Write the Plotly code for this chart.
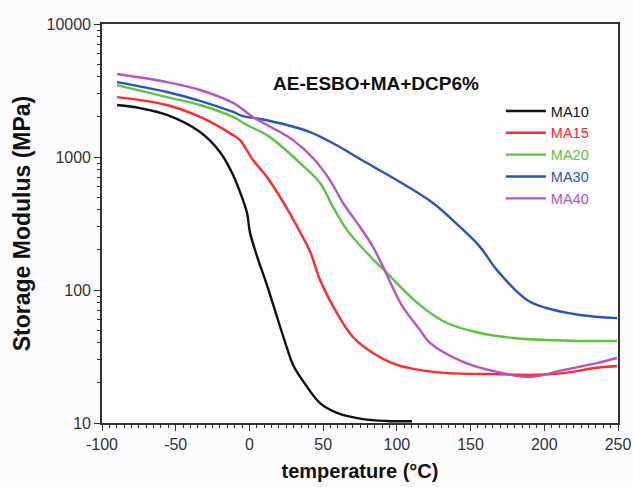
import plotly.graph_objects as go

# ---- data ----
ma10_t = [-89.8, -74.2, -55.9, -33.5, -20.0, -11.1, -4.4, -1.6, 0.4, 5.1, 11.9, 18.7, 25.5, 29.6, 39.1, 47.9, 59.4, 77.0, 93.3, 110.3]
ma10_e = [2460, 2330, 2070, 1540, 1090, 733, 475, 379, 270, 180, 109, 62.7, 36.6, 27.3, 18.7, 14.1, 11.9, 10.7, 10.35, 10.3]

ma15_t = [-89.8, -55.9, -33.5, -11.1, -6.4, 2.4, 11.9, 22.8, 34.3, 41.1, 47.9, 59.4, 70.2, 83.8, 100.1, 115.7, 134.0, 167.9, 190.3, 212.7, 235.7, 249.3]
ma15_e = [2820, 2460, 2000, 1460, 1340, 950, 707, 459, 273, 195, 119, 67, 44.3, 33.6, 27.3, 25.0, 23.7, 23.3, 23.0, 23.7, 26.0, 26.8]

ma20_t = [-89.8, -55.9, -33.5, -11.1, -1.6, 11.9, 20.7, 34.3, 47.9, 56.7, 66.2, 79.7, 93.3, 115.7, 134.0, 156.4, 178.8, 201.8, 224.2, 249.3]
ma20_e = [3475, 2820, 2460, 2000, 1740, 1460, 1230, 901, 638, 421, 282, 190, 134, 77, 56.5, 47.5, 43.6, 42.1, 41.4, 41.4]

ma30_t = [-89.8, -55.9, -33.5, -11.1, -4.4, 7.2, 25.5, 41.1, 56.7, 79.7, 102.1, 124.5, 142.8, 156.4, 167.9, 188.3, 201.8, 224.2, 249.3]
ma30_e = [3660, 3080, 2640, 2180, 2030, 1930, 1740, 1540, 1270, 901, 649, 451, 298, 211, 141, 84, 73, 64.9, 61.5]

ma40_t = [-89.8, -55.9, -33.5, -11.1, 2.4, 20.7, 29.6, 43.1, 54.6, 63.5, 75.0, 83.8, 90.6, 103.0, 115.7, 122.5, 144.9, 167.9, 190.3, 212.7, 235.7, 249.3]
ma40_e = [4210, 3660, 3190, 2550, 2000, 1540, 1340, 982, 671, 451, 298, 211, 150, 78, 50, 40, 28.8, 24.2, 22.2, 25.0, 28.2, 30.8]

series = [
    ("MA10", ma10_t, ma10_e, "#111111"),
    ("MA15", ma15_t, ma15_e, "#ff2a2a"),
    ("MA20", ma20_t, ma20_e, "#5cc43e"),
    ("MA30", ma30_t, ma30_e, "#2a55b8"),
    ("MA40", ma40_t, ma40_e, "#b456c0"),
]

x_ticks = [-100, -50, 0, 50, 100, 150, 200, 250]
y_ticks = [10, 100, 1000, 10000]
y_minor = [m * 10 ** k for k in (1, 2, 3) for m in range(2, 10)]

FONT = "Liberation Sans, Arial"

fig = go.Figure()
for name, t, e, c in series:
    fig.add_trace(go.Scatter(
        x=t, y=e, mode="lines", line=dict(color=c, width=2.4, shape="spline", smoothing=1.0),
        name=f"<span style='color:{c}'>{name}</span>",
    ))

fig.add_annotation(
    text="<b>AE-ESBO+MA+DCP6%</b>", xref="paper", yref="paper",
    x=0.531, y=0.852, xanchor="center", yanchor="middle", showarrow=False,
    font=dict(family=FONT, size=19, color="#111111"),
)

fig.update_layout(
    width=633, height=487,
    margin=dict(l=102, r=15, t=24, b=64, autoexpand=False),
    paper_bgcolor="#fbfbfd", plot_bgcolor="#fdfdff",
    font=dict(family=FONT, size=16, color="#333333"),
    showlegend=True,
    legend=dict(
        x=0.773, y=0.822, xanchor="left", yanchor="top",
        bgcolor="rgba(0,0,0,0)", font=dict(size=14.5, family=FONT),
        tracegroupgap=0, itemwidth=40,
    ),
)

fig.update_xaxes(
    range=[-100, 250], tickvals=x_ticks, ticktext=[str(v) for v in x_ticks],
    ticks="outside", ticklen=6, tickwidth=1.2, tickcolor="#333",
    minor=dict(dtick=5, ticks="outside", ticklen=3, tickwidth=1, tickcolor="#333"),
    showline=True, linewidth=1.6, linecolor="#333", mirror=True,
    showgrid=False, zeroline=False, automargin=False,
    title=dict(text="<b>temperature (°C)</b>", font=dict(size=20, color="#111"), standoff=12),
    tickfont=dict(size=16, color="#333"),
)
fig.update_yaxes(
    type="log", range=[1, 4], tickvals=y_ticks, ticktext=[str(v) for v in y_ticks],
    ticks="outside", ticklen=6, tickwidth=1.2, tickcolor="#333",
    minor=dict(tickvals=y_minor, ticks="outside", ticklen=3, tickwidth=1, tickcolor="#333", showgrid=False),
    showline=True, linewidth=1.6, linecolor="#333", mirror=True,
    showgrid=False, zeroline=False, automargin=False,
    title=dict(text="<b>Storage Modulus (MPa)</b>", font=dict(size=23, color="#111"), standoff=9),
    tickfont=dict(size=16, color="#333"),
)

fig.write_html(
    "out.html",
    config={"displayModeBar": False},
    post_script="document.body.style.margin='0';document.body.style.overflow='hidden';",
)
